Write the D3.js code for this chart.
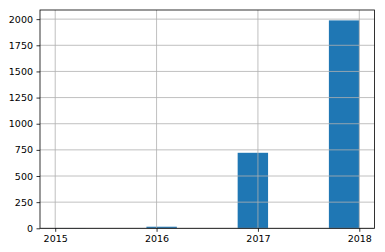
<!DOCTYPE html>
<meta charset="utf-8">
<style>
    body { margin: 0; background: #fff; }
    .axis text { font: 9.5px "DejaVu Sans", sans-serif; fill: #000; }
    .axis line { stroke: #000; stroke-width: 0.8; }
    .axis path { display: none; }
    .grid line { stroke: #b0b0b0; stroke-width: 0.8; }
</style>
<svg width="385" height="252"></svg>
<script src="https://d3js.org/d3.v7.min.js"></script>
<script>

    // histogram bins (year ranges) and counts
    var binStarts = [2015.0, 2015.3, 2015.6, 2015.9, 2016.2, 2016.5, 2016.8, 2017.1, 2017.4, 2017.7];
    var binWidth = 0.3;
    var counts = [2, 0, 0, 15, 0, 0, 722, 0, 0, 1988];
    var xTicks = [2015, 2016, 2017, 2018];
    var yTicks = [0, 250, 500, 750, 1000, 1250, 1500, 1750, 2000];

    var svg = d3.select("svg"),
        margin = {top: 10, right: 10.5, bottom: 23.7, left: 40},
        width = +svg.attr("width") - margin.left - margin.right,
        height = +svg.attr("height") - margin.top - margin.bottom,
        g = svg.append("g").attr("transform", "translate(" + margin.left + "," + margin.top + ")");

    var x = d3.scaleLinear()
        .domain([2014.85, 2018.15])
        .range([0, width]);

    var y = d3.scaleLinear()
        .domain([0, d3.max(counts) * 1.05])
        .range([height, 0]);

    // bars
    g.selectAll(".bar")
        .data(counts)
        .enter().append("rect")
        .attr("class", "bar")
        .attr("x", function (d, i) { return x(binStarts[i]); })
        .attr("width", function (d, i) { return x(binStarts[i] + binWidth) - x(binStarts[i]); })
        .attr("y", function (d) { return y(d); })
        .attr("height", function (d) { return height - y(d); })
        .attr("fill", "#1f77b4");

    // grid sits on top of the bars
    g.append("g").attr("class", "grid")
        .selectAll("line").data(xTicks).enter().append("line")
        .attr("x1", function (d) { return x(d); })
        .attr("x2", function (d) { return x(d); })
        .attr("y1", 0).attr("y2", height);

    g.append("g").attr("class", "grid")
        .selectAll("line").data(yTicks).enter().append("line")
        .attr("y1", function (d) { return y(d); })
        .attr("y2", function (d) { return y(d); })
        .attr("x1", 0).attr("x2", width);

    g.append("g")
        .attr("class", "axis")
        .attr("transform", "translate(0," + height + ")")
        .call(d3.axisBottom(x).tickValues(xTicks).tickFormat(d3.format("d")).tickSize(3.5).tickPadding(3.5));

    g.append("g")
        .attr("class", "axis")
        .call(d3.axisLeft(y).tickValues(yTicks).tickFormat(d3.format("d")).tickSize(3.5).tickPadding(3.5));

    // frame
    g.append("rect")
        .attr("width", width)
        .attr("height", height)
        .attr("fill", "none")
        .attr("stroke", "#000")
        .attr("stroke-width", 0.8);

</script>
